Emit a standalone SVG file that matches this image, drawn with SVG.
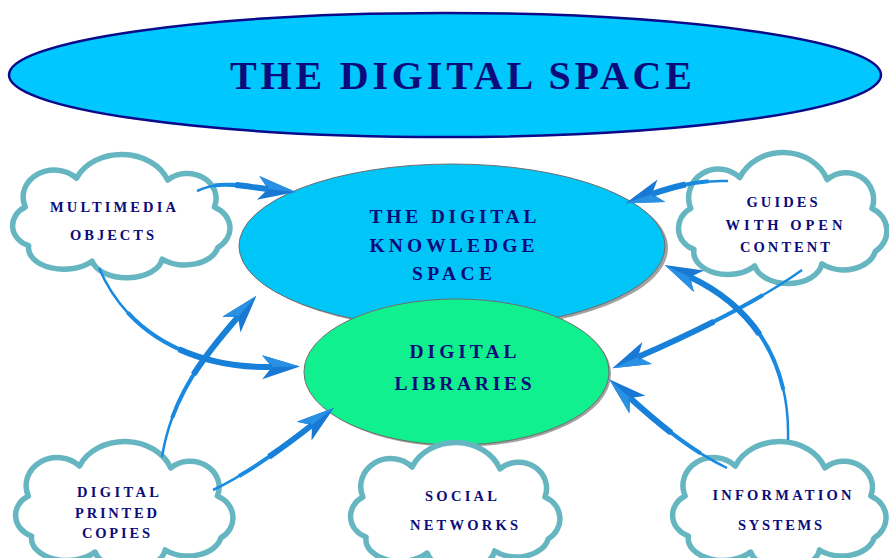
<svg xmlns="http://www.w3.org/2000/svg" xmlns:xlink="http://www.w3.org/1999/xlink" width="889" height="558" viewBox="0 0 889 558">
<style>
  .t{font-family:"Liberation Serif","Times New Roman",serif;font-weight:bold;fill:#0B0B7A;text-anchor:middle}
  .ct{font-size:14.5px}
  .et{font-size:19.5px}
  .cloud{fill:#FFFFFF;stroke:#66B6C2;stroke-width:5.5;stroke-linejoin:round}
  .a0{fill:none;stroke:#1A8AE0;stroke-width:2.5}
  .a1{fill:none;stroke:#1A8AE0;stroke-width:4;stroke-dasharray:0 25 75}
  .a2{fill:none;stroke:#1780D8;stroke-width:6;stroke-dasharray:0 55 45}
</style>
<defs>
  <path id="cloudShape" class="cloud" vector-effect="non-scaling-stroke" d="M25,98 A22 22 0 0 1 22,58 A28 28 0 0 1 68,28 A44 40 0 0 1 150,30 A26 26 0 0 1 192,58 A24 24 0 0 1 195,100 A30 22 0 0 1 145,112 A32 22 0 0 1 82,114 A32 22 0 0 1 25,98 Z"/>
  <marker id="ah" viewBox="0 -14 38 28" refX="10" refY="0" markerWidth="38" markerHeight="28" markerUnits="userSpaceOnUse" orient="auto">
    <path d="M38,0 L0,-12 L10,0 L0,12 Z" fill="#1878D4"/>
    <path d="M38,0 L0,-12 L10,0 Z" fill="#2A90E4"/>
  </marker>
</defs>
<rect width="889" height="558" fill="#FFFFFF"/>

<g id="digital-space">
  <ellipse cx="445" cy="75" rx="436" ry="62" fill="#00C8FF" stroke="#0A0A8A" stroke-width="2.5"/>
  <text class="t" x="461" y="89" font-size="40" textLength="462" lengthAdjust="spacing">THE DIGITAL SPACE</text>
</g>

<g id="knowledge-space">
  <ellipse cx="455" cy="248" rx="213" ry="82" fill="#7A7A7A" opacity="0.7"/>
  <ellipse cx="452" cy="246" rx="213" ry="82" fill="#00C6F8" stroke="#6E6E6E" stroke-width="1"/>
  <text class="t et" x="453" y="223" textLength="167" lengthAdjust="spacing">THE DIGITAL</text>
  <text class="t et" x="452" y="252" textLength="165" lengthAdjust="spacing">KNOWLEDGE</text>
  <text class="t et" x="452" y="280" textLength="80" lengthAdjust="spacing">SPACE</text>
</g>

<g id="digital-libraries">
  <ellipse cx="459" cy="374" rx="152" ry="73" fill="#7A7A7A" opacity="0.7"/>
  <ellipse cx="456.5" cy="372" rx="152.5" ry="73" fill="#10F08E" stroke="#6E6E6E" stroke-width="1"/>
  <text class="t et" x="463" y="358" textLength="107" lengthAdjust="spacing">DIGITAL</text>
  <text class="t et" x="463" y="390" textLength="137" lengthAdjust="spacing">LIBRARIES</text>
</g>

<g id="multimedia-objects">
  <use xlink:href="#cloudShape" transform="translate(0.9,151.1) scale(1.112,0.965)"/>
  <text class="t ct" x="113" y="212" textLength="126" lengthAdjust="spacing">MULTIMEDIA</text>
  <text class="t ct" x="112" y="240" textLength="84" lengthAdjust="spacing">OBJECTS</text>
</g>

<g id="guides-open-content">
  <use xlink:href="#cloudShape" transform="translate(667.3,148.9) scale(1.066,1.026)"/>
  <text class="t ct" x="782" y="207" textLength="71" lengthAdjust="spacing">GUIDES</text>
  <text class="t ct" x="784" y="230" textLength="117" lengthAdjust="spacing">WITH  OPEN</text>
  <text class="t ct" x="785" y="252" textLength="90" lengthAdjust="spacing">CONTENT</text>
</g>

<g id="digital-printed-copies">
  <use xlink:href="#cloudShape" transform="translate(3.9,438) scale(1.112,1)"/>
  <text class="t ct" x="118" y="497" textLength="82" lengthAdjust="spacing">DIGITAL</text>
  <text class="t ct" x="116" y="518" textLength="82" lengthAdjust="spacing">PRINTED</text>
  <text class="t ct" x="116" y="538" textLength="68" lengthAdjust="spacing">COPIES</text>
</g>

<g id="social-networks">
  <use xlink:href="#cloudShape" transform="translate(339.3,439) scale(1.071,1)"/>
  <text class="t ct" x="461" y="501" textLength="72" lengthAdjust="spacing">SOCIAL</text>
  <text class="t ct" x="464" y="530" textLength="108" lengthAdjust="spacing">NETWORKS</text>
</g>

<g id="information-systems">
  <use xlink:href="#cloudShape" transform="translate(661.1,438) scale(1.092,1)"/>
  <text class="t ct" x="782" y="500" textLength="139" lengthAdjust="spacing">INFORMATION</text>
  <text class="t ct" x="780" y="530" textLength="84" lengthAdjust="spacing">SYSTEMS</text>
</g>

<g id="connectors">
  <g>
    <path class="a0" marker-end="url(#ah)" d="M197,191 C220,180 240,186 268,189"/>
    <path class="a1" pathLength="100" d="M197,191 C220,180 240,186 268,189"/>
    <path class="a2" pathLength="100" d="M197,191 C220,180 240,186 268,189"/>
  </g>
  <g>
    <path class="a0" marker-end="url(#ah)" d="M99,268 C130,340 200,368 272,367"/>
    <path class="a1" pathLength="100" d="M99,268 C130,340 200,368 272,367"/>
    <path class="a2" pathLength="100" d="M99,268 C130,340 200,368 272,367"/>
  </g>
  <g>
    <path class="a0" marker-end="url(#ah)" d="M162,457 C172,395 205,355 238,317"/>
    <path class="a1" pathLength="100" d="M162,457 C172,395 205,355 238,317"/>
    <path class="a2" pathLength="100" d="M162,457 C172,395 205,355 238,317"/>
  </g>
  <g>
    <path class="a0" marker-end="url(#ah)" d="M213,490 C245,475 280,450 312,425"/>
    <path class="a1" pathLength="100" d="M213,490 C245,475 280,450 312,425"/>
    <path class="a2" pathLength="100" d="M213,490 C245,475 280,450 312,425"/>
  </g>
  <g>
    <path class="a0" marker-end="url(#ah)" d="M728,181 C700,180 678,185 652,194"/>
    <path class="a1" pathLength="100" d="M728,181 C700,180 678,185 652,194"/>
    <path class="a2" pathLength="100" d="M728,181 C700,180 678,185 652,194"/>
  </g>
  <g>
    <path class="a0" marker-end="url(#ah)" d="M802,270 C760,300 700,330 638,357"/>
    <path class="a1" pathLength="100" d="M802,270 C760,300 700,330 638,357"/>
    <path class="a2" pathLength="100" d="M802,270 C760,300 700,330 638,357"/>
  </g>
  <g>
    <path class="a0" marker-end="url(#ah)" d="M788,440 C790,370 760,310 690,277"/>
    <path class="a1" pathLength="100" d="M788,440 C790,370 760,310 690,277"/>
    <path class="a2" pathLength="100" d="M788,440 C790,370 760,310 690,277"/>
  </g>
  <g>
    <path class="a0" marker-end="url(#ah)" d="M727,468 C690,450 660,425 630,398"/>
    <path class="a1" pathLength="100" d="M727,468 C690,450 660,425 630,398"/>
    <path class="a2" pathLength="100" d="M727,468 C690,450 660,425 630,398"/>
  </g>
</g>
</svg>
